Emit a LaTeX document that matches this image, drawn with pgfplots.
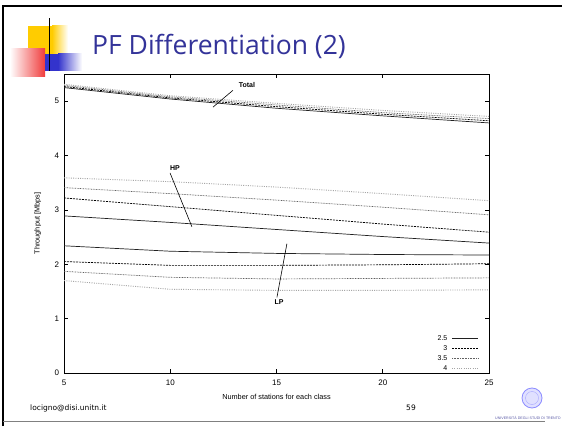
\documentclass[border=0pt]{standalone}
\usepackage{pgfplots}
\pgfplotsset{compat=1.18}
\usepackage{pgfplotstable}
\usepackage{fontspec}
\setmainfont{Liberation Sans}
\newfontfamily\titlefont{Open Sans}
\newfontfamily\footfont{DejaVu Sans}
\definecolor{titleblue}{RGB}{51,51,153}
\definecolor{decoyellow}{RGB}{255,204,0}
\definecolor{decored}{RGB}{240,60,60}
\definecolor{decoblue}{RGB}{51,51,204}

% throughput of the high priority class
\pgfplotstableread{
x   s25  s3   s35  s4
5   2.89 3.22 3.41 3.59
10  2.77 3.06 3.30 3.52
15  2.64 2.90 3.18 3.42
20  2.51 2.74 3.05 3.30
25  2.39 2.59 2.91 3.17
}\hp
% throughput of the low priority class
\pgfplotstableread{
x   s25  s3   s35  s4
5   2.34 2.05 1.87 1.70
10  2.24 1.98 1.76 1.54
15  2.20 1.98 1.73 1.52
20  2.18 1.99 1.74 1.52
25  2.17 2.01 1.75 1.53
}\lp
% total throughput
\pgfplotstableread{
x   s25  s3   s35  s4
5   5.25 5.27 5.29 5.31
10  5.04 5.06 5.08 5.10
15  4.87 4.90 4.93 4.96
20  4.73 4.76 4.79 4.83
25  4.60 4.64 4.68 4.72
}\tot

\tikzset{
  r25/.style={gray!25!black, line width=0.7pt},
  r3/.style={black, line width=0.7pt, dash pattern=on 2pt off 1pt},
  r35/.style={gray!75!black, line width=0.7pt, dash pattern=on 0.8pt off 0.8pt},
  r4/.style={gray!70, line width=0.9pt, dash pattern=on 1pt off 1.3pt},
}

\begin{document}
\begin{tikzpicture}
\begin{scope}[x=1pt,y=1pt]
\path[use as bounding box, fill=white] (0,0) rectangle (562,426);

% slide frame and decoration
\draw[line width=2pt] (3,0) -- (3,420) -- (562,420);
\draw[gray, line width=0.6pt] (3,5) -- (545,5);
\fill[decoyellow] (28,372) rectangle (52,400);
\shade[left color=decoyellow, right color=white] (52,372) rectangle (68,400);
\shade[left color=white, right color=decored] (10,349) rectangle (45,377);
\fill[decoblue] (45,355) rectangle (58,372);
\shade[left color=decoblue, right color=white] (58,355) rectangle (82,372);
\draw[line width=0.8pt] (49.5,355) -- (49.5,408);
\node[anchor=west, text=titleblue, inner sep=0pt] at (92,380)
  {\titlefont\fontsize{26.5}{30}\selectfont PF Differentiation (2)};

% footer
\node[anchor=west, inner sep=0pt] at (30,18) {\footfont\fontsize{7.5}{9}\selectfont locigno@disi.unitn.it};
\node[inner sep=0pt] at (411,18) {\footfont\fontsize{7.5}{9}\selectfont 59};
\draw[blue!45, fill=blue!12, line width=0.8pt] (532,28) circle (10);
\draw[blue!35] (532,28) circle (6.5);
\node[anchor=west, inner sep=0pt, text=blue!30!gray] at (495,8)
  {\fontsize{3.6}{4}\selectfont UNIVERSITÀ DEGLI STUDI DI TRENTO};
\end{scope}

\begin{axis}[
  at={(64pt,53pt)}, anchor=south west,
  scale only axis, width=425pt, height=299pt,
  xmin=5, xmax=25, ymin=0, ymax=5.5,
  xtick={5,10,15,20,25}, ytick={0,1,2,3,4,5},
  tick align=inside, major tick length=4pt,
  tick style={black, line width=0.8pt},
  axis line style={black, line width=0.9pt},
  /pgf/number format/assume math mode=true,
  ticklabel style={font=\fontsize{8}{9}\selectfont},
  xticklabel style={yshift=-3.5pt},
  yticklabel style={xshift=-1.5pt},
  xlabel={Number of stations for each class},
  ylabel={Throughput [Mbps]},
  label style={font=\fontsize{7.3}{9}\selectfont},
  xlabel style={at={(axis description cs:0.5,0)}, anchor=center, yshift=-24pt},
  ylabel style={at={(axis description cs:-0.062,0.5)}, anchor=center},
  legend cell align=right, legend plot pos=right,
  legend style={draw=none, fill=none, at={(0.978,-0.004)}, anchor=south east,
    font=\fontsize{7}{8}\selectfont, row sep=1.2pt, column sep=3pt,
    inner sep=1pt, nodes={inner sep=1.2pt}},
  legend image code/.code={\draw[#1] (0pt,0pt) -- (26pt,0pt);},
]
\addplot[r25] table[x=x, y=s25] {\lp}; \addlegendentry{2.5}
\addplot[r3]  table[x=x, y=s3]  {\lp}; \addlegendentry{3}
\addplot[r35] table[x=x, y=s35] {\lp}; \addlegendentry{3.5}
\addplot[r4]  table[x=x, y=s4]  {\lp}; \addlegendentry{4}
\addplot[r25, forget plot] table[x=x, y=s25] {\hp};
\addplot[r3,  forget plot] table[x=x, y=s3]  {\hp};
\addplot[r35, forget plot] table[x=x, y=s35] {\hp};
\addplot[r4,  forget plot] table[x=x, y=s4]  {\hp};
\addplot[r25, forget plot] table[x=x, y=s25] {\tot};
\addplot[r3,  forget plot] table[x=x, y=s3]  {\tot};
\addplot[r35, forget plot] table[x=x, y=s35] {\tot};
\addplot[r4,  forget plot] table[x=x, y=s4]  {\tot};

% annotations
\node[font=\bfseries\fontsize{7}{8}\selectfont] at (axis cs:13.61,5.29) {Total};
\draw[line width=0.6pt] (axis cs:12.95,5.20) -- (axis cs:12.01,4.89);
\node[font=\bfseries\fontsize{7}{8}\selectfont] at (axis cs:10.22,3.77) {HP};
\draw[line width=0.6pt] (axis cs:9.99,3.68) -- (axis cs:11.02,2.69);
\node[font=\bfseries\fontsize{7}{8}\selectfont] at (axis cs:15.12,1.30) {LP};
\draw[line width=0.6pt] (axis cs:15.02,1.39) -- (axis cs:15.49,2.38);
\end{axis}
\end{tikzpicture}
\end{document}
